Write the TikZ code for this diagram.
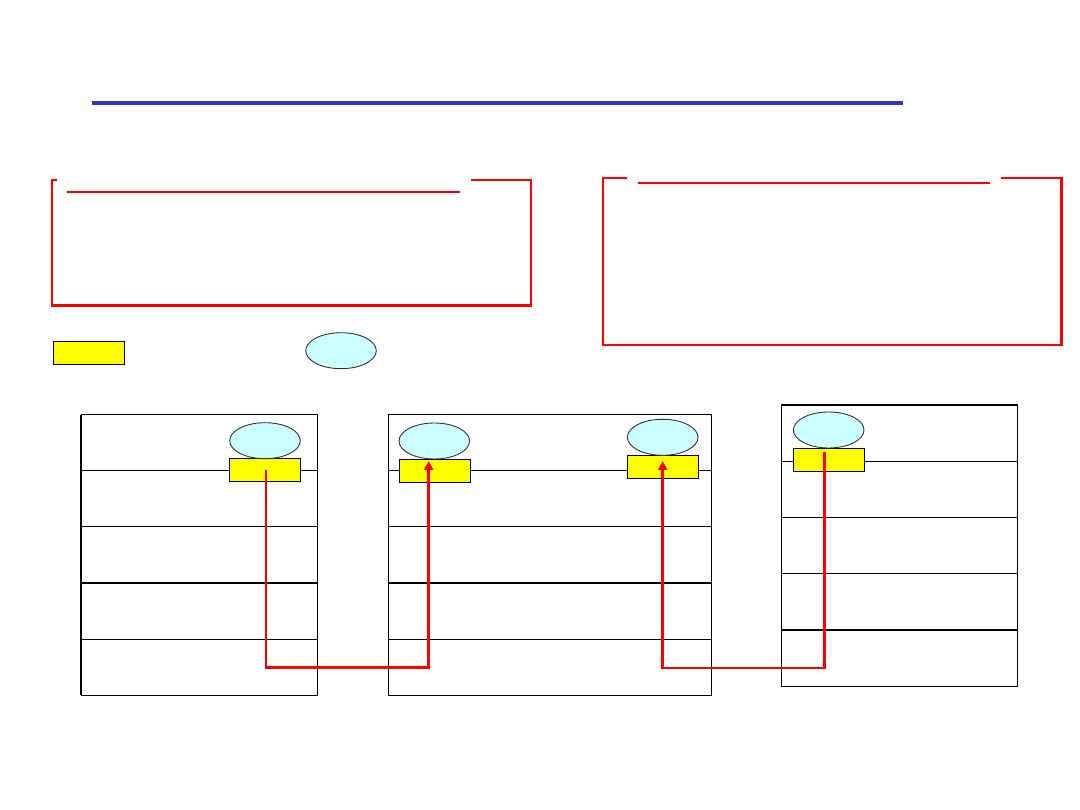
\documentclass[tikz,border=0pt]{standalone}
\usetikzlibrary{shapes.geometric,arrows.meta,calc}
\definecolor{titleblue}{HTML}{3333CC}
\definecolor{capcyan}{HTML}{CCFFFF}
\definecolor{hdryellow}{HTML}{FFFF00}
\definecolor{linkred}{HTML}{FF0000}
\tikzset{
  hdrbox/.style={draw=black, line width=1pt, fill=hdryellow, minimum width=71pt, minimum height=23pt, inner sep=0pt, outer sep=0pt},
  capoval/.style={ellipse, draw=black!80, line width=0.9pt, fill=capcyan, minimum width=70.6pt, minimum height=36pt, inner sep=0pt, outer sep=0pt},
  noteframe/.style={draw=linkred, line width=2.2pt},
  layerline/.style={draw=black, line width=1pt},
  thicklayer/.style={draw=black, line width=1.8pt},
  connline/.style={draw=linkred, line width=2.6pt},
  connarrow/.style={connline, -{Triangle[length=9pt,width=9pt]}}
}
\begin{document}
\begin{tikzpicture}[x=1pt,y=-1pt]
\useasboundingbox (0,0) rectangle (1080,810);
% title rule
\fill[titleblue] (92,101) rectangle (903,105);
% left note frame
\draw[noteframe] (57,180) -- (52,180) -- (52,305.5) -- (531,305.5) -- (531,180) -- (471,180);
\draw[noteframe] (67,192) -- (460,192);
% right note frame
\draw[noteframe] (627,178) -- (603,178) -- (603,345) -- (1061.5,345) -- (1061.5,178) -- (1001,178);
\draw[noteframe] (638,183) -- (990,183);
% legend
\node[hdrbox] (legH) at (88.8,353.5) {};
\node[capoval] (legC) at (341,350.7) {};
% left stack
\draw[layerline] (81,414.7) rectangle (317.3,695.3);
\draw[thicklayer] (81,414.7) -- (81,695.3);
\draw[layerline] (81,470.3) -- (317.3,470.3);
\draw[layerline] (81,526.3) -- (317.3,526.3);
\draw[thicklayer] (81,582.7) -- (317.3,582.7);
\draw[layerline] (81,639.3) -- (317.3,639.3);
% middle stack
\draw[layerline] (388.3,414.7) rectangle (711.3,695.3);
\draw[layerline] (388.3,470.3) -- (711.3,470.3);
\draw[layerline] (388.3,526.3) -- (711.3,526.3);
\draw[thicklayer] (388.3,582.7) -- (711.3,582.7);
\draw[layerline] (388.3,639.3) -- (711.3,639.3);
% right stack
\draw[layerline] (781.7,405) rectangle (1017.3,686.3);
\draw[thicklayer] (781.7,405) -- (1017.3,405);
\draw[layerline] (781.7,461.3) -- (1017.3,461.3);
\draw[layerline] (781.7,517.3) -- (1017.3,517.3);
\draw[layerline] (781.7,573.3) -- (1017.3,573.3);
\draw[thicklayer] (781.7,630) -- (1017.3,630);
% headers and caps
\node[hdrbox] (hL) at (264.8,469.8) {};
\node[capoval] (cL) at (265,440.7) {};
\node[hdrbox] (hM1) at (434.8,470.8) {};
\node[capoval] (cM1) at (434.3,441) {};
\node[hdrbox] (hM2) at (662.8,466.8) {};
\node[capoval] (cM2) at (662.7,437.3) {};
\node[hdrbox] (hR) at (829,459.8) {};
\node[capoval] (cR) at (828.7,430) {};
% connectors
\coordinate (sL) at (266,470);
\coordinate (tM1) at (428.7,461);
\coordinate (sR) at (824.3,452.3);
\coordinate (tM2) at (662.7,461);
\draw[connarrow] (sL) -- (266,667.7) -- (428.7,667.7) -- (tM1);
\draw[connarrow] (sR) -- (824.3,668) -- (662.7,668) -- (tM2);
\end{tikzpicture}
\end{document}
